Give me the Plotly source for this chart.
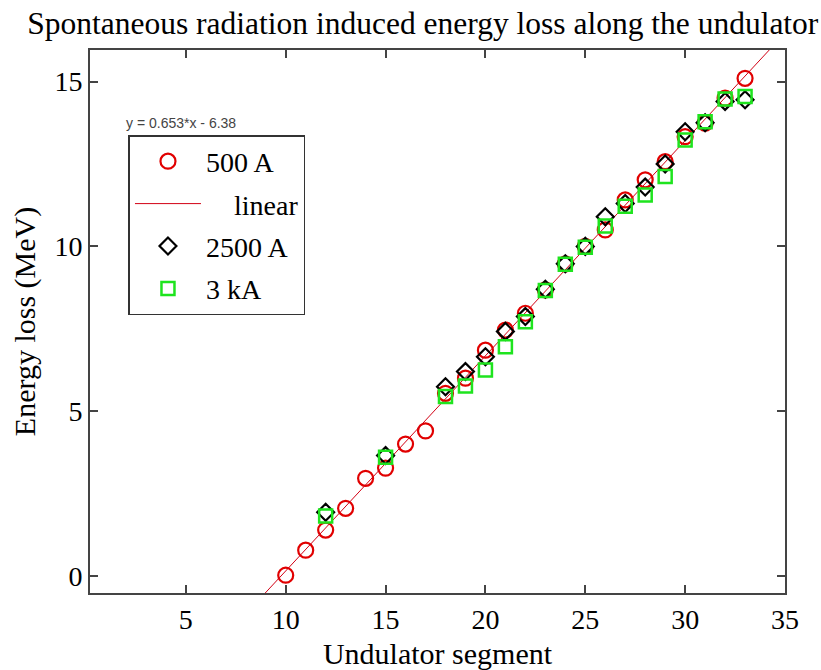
import plotly.graph_objects as go

# Data
seg_500 = list(range(10, 34))
loss_500 = [0.02, 0.78, 1.39, 2.05, 2.96, 3.27, 4.0, 4.4, 5.54, 6.0, 6.85, 7.46,
            7.97, 8.68, 9.47, 10.0, 10.5, 11.41, 12.02, 12.57, 13.33, 13.74, 14.5, 15.1]
seg_hi = [12, 15, 18, 19, 20, 21, 22, 23, 24, 25, 26, 27, 28, 29, 30, 31, 32, 33]
loss_2500 = [1.93, 3.65, 5.74, 6.2, 6.65, 7.42, 7.87, 8.7, 9.47, 10.0, 10.9, 11.3,
             11.8, 12.5, 13.48, 13.75, 14.4, 14.45]
loss_3k = [1.82, 3.6, 5.44, 5.76, 6.25, 6.95, 7.71, 8.66, 9.46, 9.97, 10.62, 11.22,
           11.56, 12.12, 13.23, 13.78, 14.47, 14.55]
fit_slope = 0.653
fit_intercept = -6.38
fit_x = [0.2, 35]
fit_y = [fit_slope * x + fit_intercept for x in fit_x]

x_range = [0.2, 35]
y_range = [-0.52, 15.96]
x_ticks = [5, 10, 15, 20, 25, 30, 35]
y_ticks = [0, 5, 10, 15]

SERIF = "Liberation Serif, Times New Roman, serif"

fig = go.Figure()
fig.add_trace(go.Scatter(
    x=seg_500, y=loss_500, mode="markers", name="500 A", legendgroup="a",
    marker=dict(symbol="circle-open", size=15, color="rgb(225,0,0)",
                line=dict(width=2.2, color="rgb(225,0,0)"))))
fig.add_trace(go.Scatter(
    x=fit_x, y=fit_y, mode="lines", name="\u00a0\u00a0\u00a0\u00a0linear", legendgroup="b",
    line=dict(color="rgb(210,0,20)", width=1)))
fig.add_trace(go.Scatter(
    x=seg_hi, y=loss_2500, mode="markers", name="2500 A", legendgroup="c",
    marker=dict(symbol="diamond-open", size=13, color="black",
                line=dict(width=2.2, color="black"))))
fig.add_trace(go.Scatter(
    x=seg_hi, y=loss_3k, mode="markers", name="3 kA", legendgroup="d",
    marker=dict(symbol="square-open", size=13, color="rgb(30,228,30)",
                line=dict(width=2.5, color="rgb(30,228,30)"))))

axis_common = dict(
    showgrid=False, zeroline=False, showline=True, mirror="ticks",
    linecolor="#444", linewidth=2, ticks="inside", ticklen=8, tickwidth=1.5,
    tickcolor="#444", tickfont=dict(family=SERIF, size=28, color="black"),
    automargin=False,
)

pw = 785 - 89.5
ph = 593 - 50

fig.update_layout(
    width=821, height=670,
    margin=dict(l=89.5, r=36, t=50, b=77),
    paper_bgcolor="white", plot_bgcolor="white",
    title=dict(text="Spontaneous radiation induced energy loss along the undulator",
               x=0.515, xref="container", y=0.965, yref="container",
               xanchor="center", yanchor="middle", automargin=False,
               font=dict(family=SERIF, size=31.5, color="black")),
    xaxis=dict(range=x_range, tickvals=x_ticks, **axis_common,
               title=dict(text="Undulator segment", standoff=9,
                          font=dict(family=SERIF, size=30, color="black"))),
    yaxis=dict(range=y_range, tickvals=y_ticks, **axis_common,
               title=dict(text="Energy loss (MeV)", standoff=10,
                          font=dict(family=SERIF, size=30, color="black"))),
    legend=dict(x=(128 - 89.5) / pw, xref="paper", y=(593 - 135) / ph, yanchor="top",
                font=dict(family=SERIF, size=28, color="black"),
                bordercolor="#333", borderwidth=1.5, bgcolor="white",
                itemwidth=66, tracegroupgap=3, traceorder="grouped"),
    showlegend=True,
)

fig.add_annotation(
    text="y = 0.653*x - 6.38", xref="paper", yref="paper",
    x=(124 - 89.5) / pw, y=(593 - 123) / ph, xanchor="left", yanchor="middle",
    showarrow=False, font=dict(family="Liberation Sans, Arial, sans-serif", size=14, color="#444"))

fig.write_html("out.html")
